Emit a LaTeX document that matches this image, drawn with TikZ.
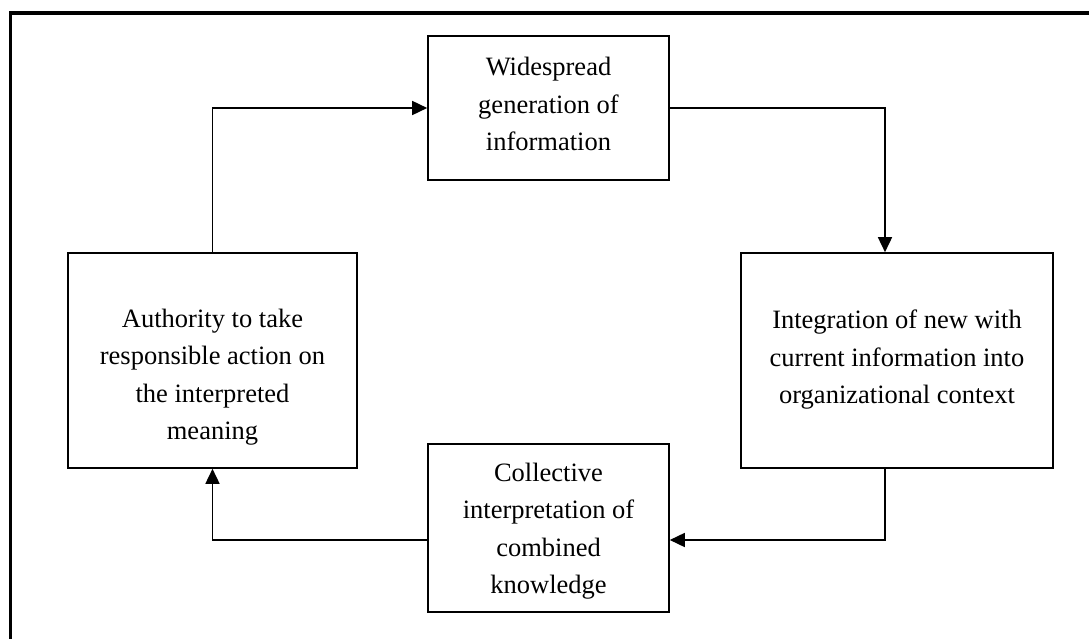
\documentclass[tikz,border=0pt]{standalone}
\usepackage{fontspec}
\setmainfont{Liberation Serif}
\usetikzlibrary{arrows.meta}
\begin{document}
\begin{tikzpicture}[x=1pt,y=-1pt,
  stepbox/.style={draw,line width=1.6pt,inner sep=0pt,rectangle},
  boxtext/.style={align=center,font=\fontsize{26.5}{37.5}\selectfont},
  arr/.style={line width=1.6pt,-{Triangle[length=15pt,width=14pt]}}]
  \useasboundingbox (0,0) rectangle (1089,639);
  \begin{scope}
    \clip (0,0) rectangle (1089,639);
    % outer frame, running off the right and bottom edges
    \draw[line width=3.5pt] (10.5,13) rectangle (1110,660);
  \end{scope}

  % the four stages of the cycle
  \node[stepbox,minimum width=241pt,minimum height=144pt] (W) at (548.5,108) {};
  \node[boxtext] (Wt) at (548.5,104) {Widespread\\generation of\\information};

  \node[stepbox,minimum width=312pt,minimum height=215pt] (I) at (897,360.5) {};
  \node[boxtext] (It) at (897,360) {Integration of new with\\current information into\\organizational context};

  \node[stepbox,minimum width=241pt,minimum height=168pt] (C) at (548.5,528) {};
  \node[boxtext] (Ct) at (548.5,531) {Collective\\interpretation of\\combined\\knowledge};

  \node[stepbox,minimum width=289pt,minimum height=215pt] (A) at (212.5,360.5) {};
  \node[boxtext] (At) at (212.5,377) {Authority to take\\responsible action on\\the interpreted\\meaning};

  % connectors
  \draw[arr] (A.north) |- (W.west);
  \draw[arr] (W.east) -| ([xshift=-12pt]I.north);
  \draw[arr] ([xshift=-12pt]I.south) |- ([yshift=-12pt]C.east);
  \draw[arr] ([yshift=-12pt]C.west) -| (A.south);
\end{tikzpicture}
\end{document}
